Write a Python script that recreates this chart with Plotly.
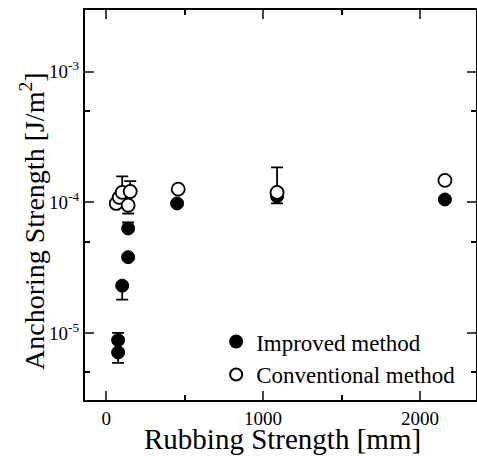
import plotly.graph_objects as go

# Improved method (filled)
imp_x = [76, 76, 102, 140, 140, 452, 1089, 2159]
imp_y = [7.1e-6, 8.8e-6, 2.3e-5, 3.8e-5, 6.3e-5, 9.8e-5, 1.11e-4, 1.05e-4]
imp_err_plus = [0, 1.2e-6, 0, 0, 0.7e-5, 0, 0, 0]
imp_err_minus = [1.2e-6, 0, 0.5e-5, 0, 0, 0, 1.3e-5, 0]

# Conventional method (open)
con_x = [64, 83, 102, 140, 153, 459, 1089, 2159]
con_y = [9.8e-5, 1.09e-4, 1.19e-4, 9.5e-5, 1.21e-4, 1.26e-4, 1.19e-4, 1.47e-4]
con_err_plus = [0, 0, 3.9e-5, 0, 2.4e-5, 0, 6.6e-5, 0]
con_err_minus = [0, 0, 0, 1.3e-5, 0, 0, 0, 0]

y_tickvals = [1e-5, 1e-4, 1e-3]
y_ticktext = ["10<sup>-5</sup>", "10<sup>-4</sup>", "10<sup>-3</sup>"]
x_tickvals = [0, 1000, 2000]

SERIF = "Liberation Serif, Times New Roman, serif"

fig = go.Figure()
fig.add_trace(go.Scatter(
    x=imp_x, y=imp_y, mode="markers", name="Improved method",
    marker=dict(symbol="circle", size=13, color="black", line=dict(color="black", width=1)),
    error_y=dict(type="data", symmetric=False, array=imp_err_plus, arrayminus=imp_err_minus,
                 color="black", thickness=1.8, width=6),
))
fig.add_trace(go.Scatter(
    x=con_x, y=con_y, mode="markers", name="Conventional method",
    marker=dict(symbol="circle", size=13, color="white", line=dict(color="black", width=1.8)),
    error_y=dict(type="data", symmetric=False, array=con_err_plus, arrayminus=con_err_minus,
                 color="black", thickness=1.8, width=6),
))

fig.update_layout(
    width=477, height=456,
    margin=dict(l=85, r=1, t=10, b=56, autoexpand=False),
    paper_bgcolor="white", plot_bgcolor="white",
    font=dict(family=SERIF, color="black", size=19),
    showlegend=True,
    legend=dict(x=0.962, y=0.01, xanchor="right", yanchor="bottom",
                bgcolor="rgba(0,0,0,0)", font=dict(family=SERIF, size=23),
                itemsizing="constant"),
    xaxis=dict(
        range=[-135, 2357], tickvals=x_tickvals, ticks="inside", ticklen=9, tickwidth=2,
        showline=True, linecolor="black", linewidth=2, mirror="ticks", showgrid=False, zeroline=False,
        tickfont=dict(size=19), automargin=False,
        minor=dict(tickvals=[500, 1500], ticks="inside", ticklen=5, tickwidth=2, tickcolor="black"),
    ),
    yaxis=dict(
        type="log", range=[-5.513, -2.529], tickvals=y_tickvals, ticktext=y_ticktext,
        ticks="inside", ticklen=9, tickwidth=2,
        showline=True, linecolor="black", linewidth=2, mirror="ticks", showgrid=False, zeroline=False,
        tickfont=dict(size=19), automargin=False,
        minor=dict(tickvals=[5e-6, 5e-5, 5e-4], ticks="inside", ticklen=5, tickwidth=2, tickcolor="black"),
    ),
    annotations=[
        dict(text="Rubbing Strength [mm]", xref="paper", yref="paper",
             x=0.504, y=-0.1, xanchor="center", yanchor="middle", showarrow=False,
             font=dict(family=SERIF, size=29)),
        dict(text="Anchoring Strength [J/m<sup>2</sup>]", xref="paper", yref="paper",
             x=-0.133, y=0.459, xanchor="center", yanchor="middle", showarrow=False,
             textangle=-90, font=dict(family=SERIF, size=28)),
    ],
)

fig.write_html("out.html", config={"displayModeBar": False},
               post_script="document.body.style.margin='0';document.body.style.overflow='hidden';")
